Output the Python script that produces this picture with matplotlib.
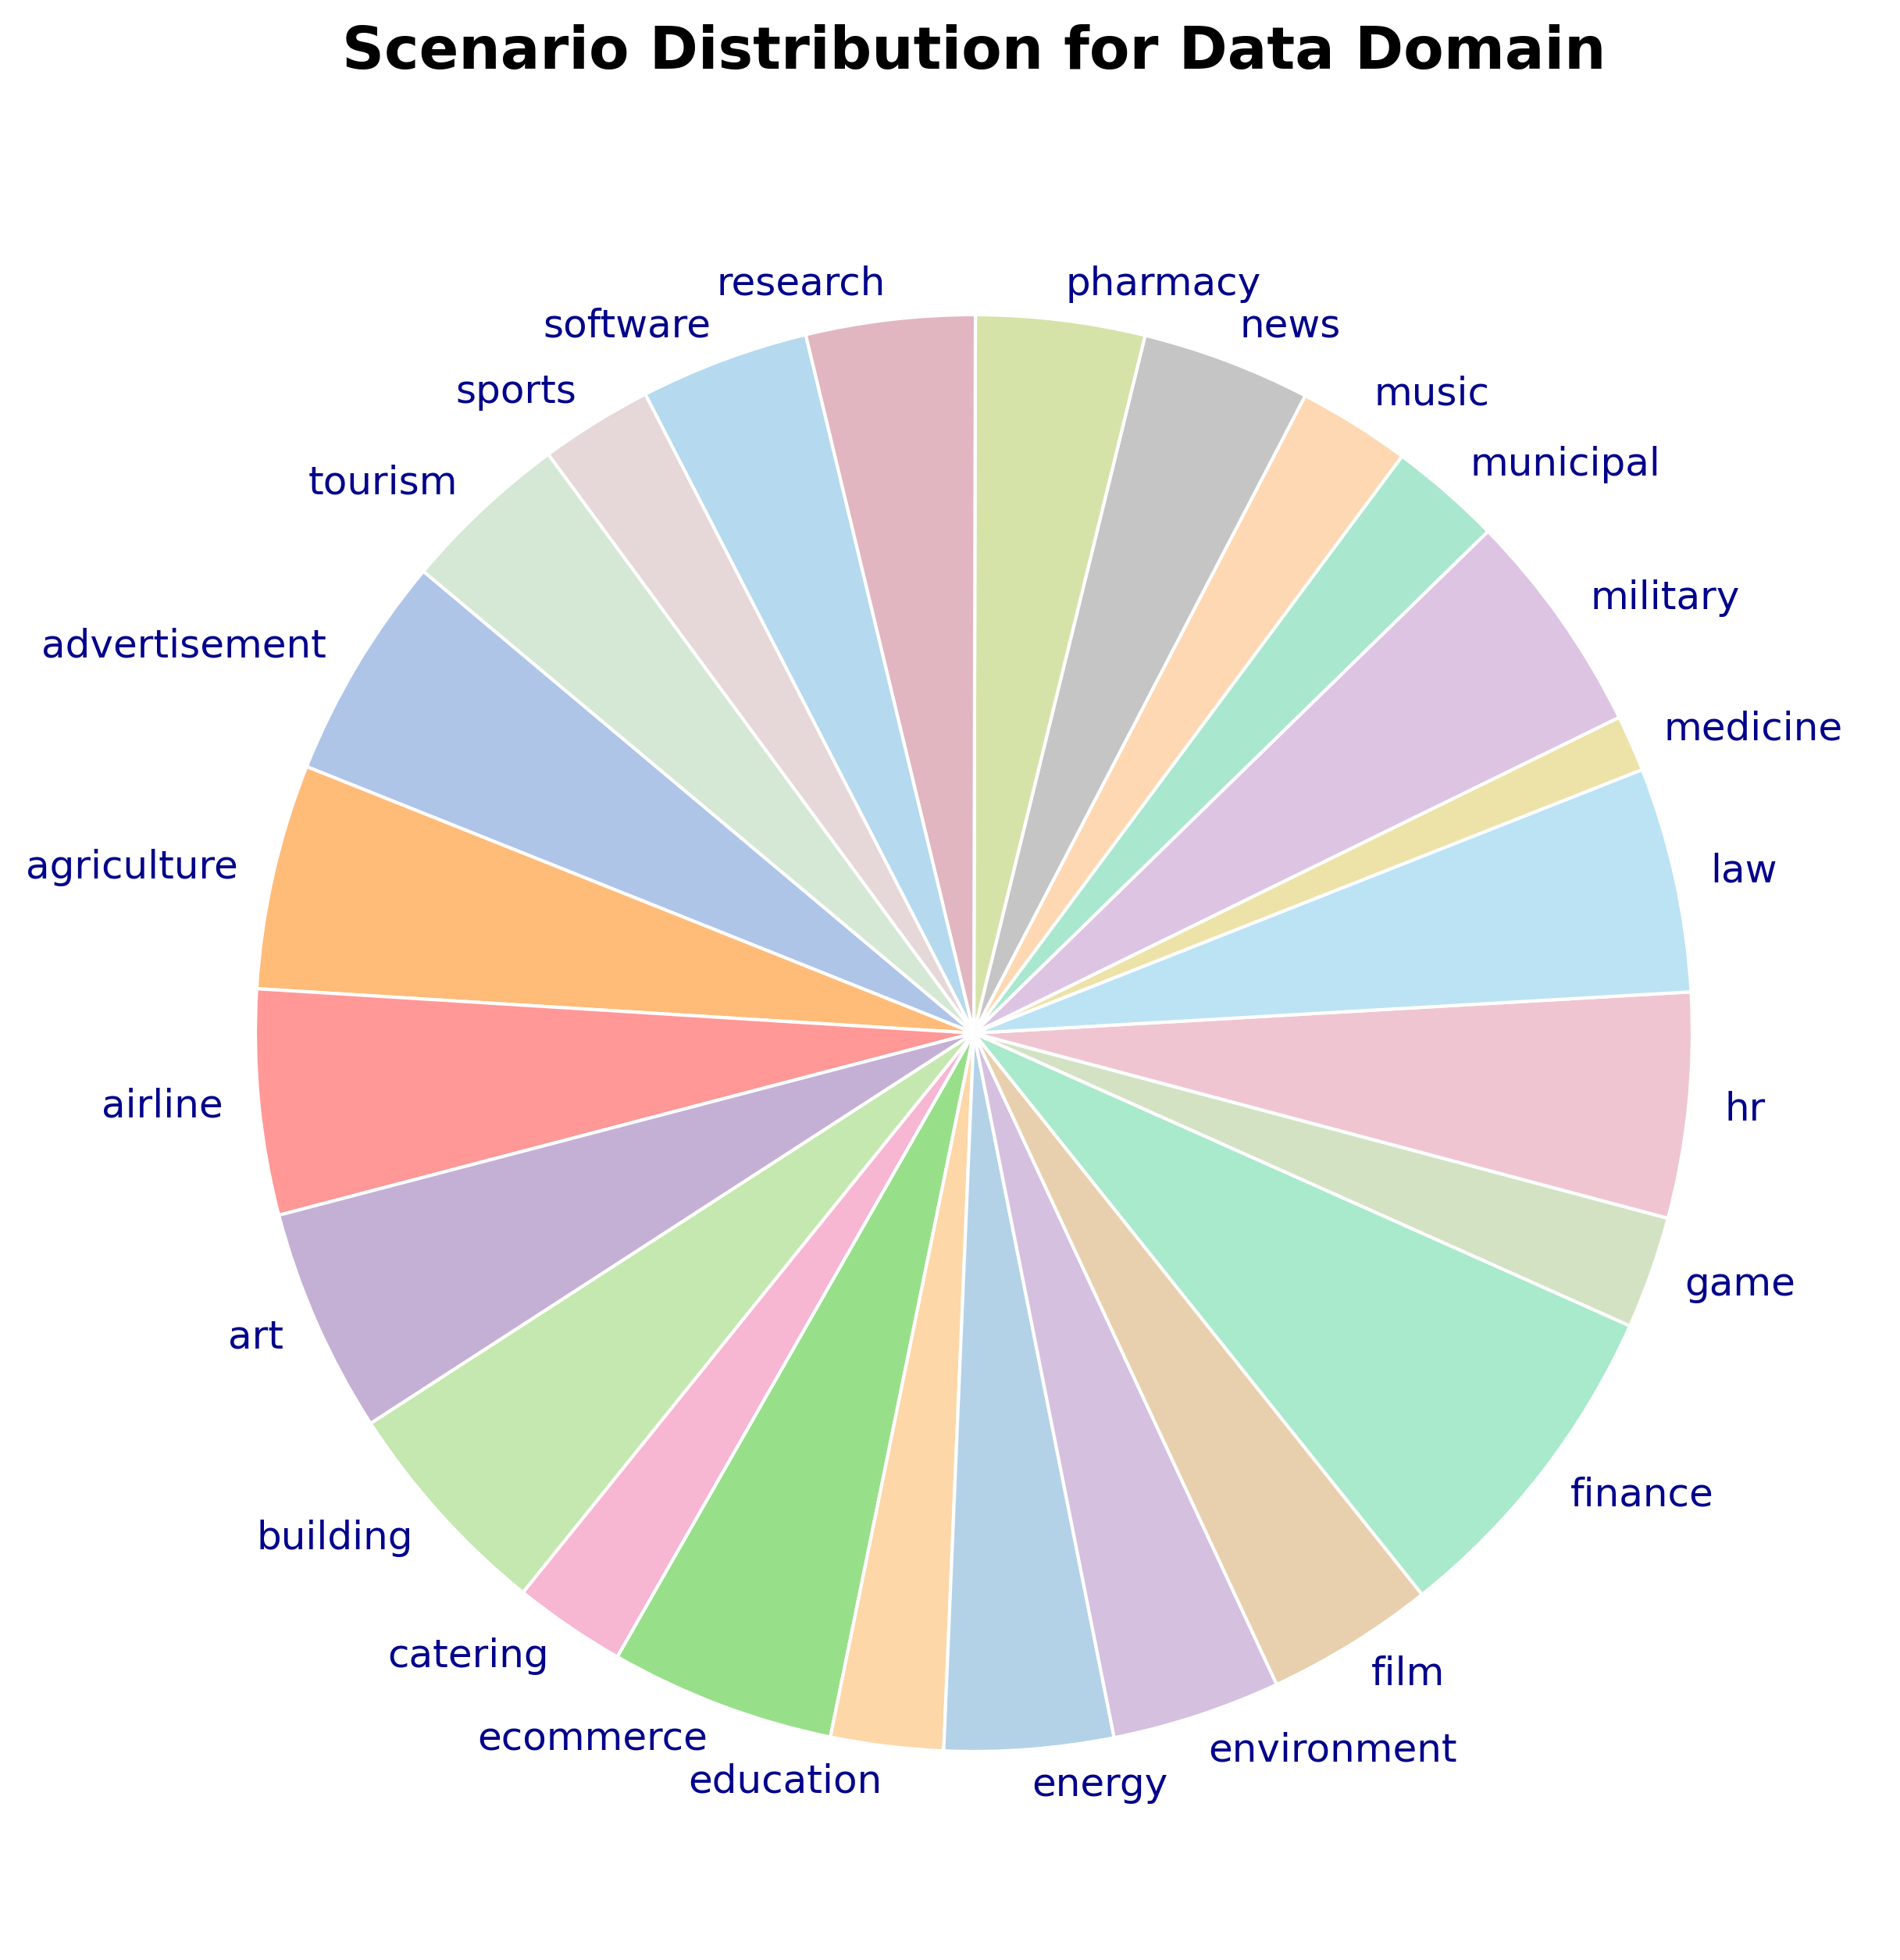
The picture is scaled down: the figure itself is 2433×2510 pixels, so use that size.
import matplotlib.pyplot as plt

scenarios = ['advertisement', 'agriculture', 'airline', 'art', 'building',
             'catering', 'ecommerce', 'education', 'energy', 'environment',
             'film', 'finance', 'game', 'hr', 'law', 'medicine', 'military',
             'municipal', 'music', 'news', 'pharmacy', 'research', 'software',
             'sports', 'tourism']
counts = [4, 4, 4, 4, 4, 2, 4, 2, 3, 3, 3, 6, 2, 4, 4, 1, 4, 2, 2, 3, 3, 3, 3, 2, 3]

colors = ['#aec5e8', '#ffbb78', '#ff9896', '#c5b0d5', '#c5e7b0',
          '#f7b6d2', '#98df8a', '#fdd7a8', '#b3d2e8', '#d5c0df',
          '#e8d0ae', '#a9e9cc', '#d4e2c4', '#f0c5d2', '#bbe3f4',
          '#ede2a8', '#dec4e3', '#a9e7cf', '#fdd8b2', '#c5c5c5',
          '#d5e3a9', '#e1b6c1', '#b5d9ee', '#e6d7d9', '#d4e8d5']

fig = plt.figure(figsize=(2433 / 300, 2510 / 300), dpi=300)
ax = fig.add_axes([97 / 2433, 37 / 2510, 2300 / 2433, 2300 / 2510])

ax.pie(counts,
       labels=scenarios,
       colors=colors,
       startangle=140,
       labeldistance=1.05,
       wedgeprops=dict(edgecolor='white', linewidth=1),
       textprops=dict(color='darkblue', fontsize=12))

ax.set_title('Scenario Distribution for Data Domain',
             fontsize=18, fontweight='bold', pad=20.4)
ax.axis('equal')
ax.set_xlim(-1.25, 1.25)
ax.set_ylim(-1.25, 1.25)

fig.savefig('out.png', dpi=300)
